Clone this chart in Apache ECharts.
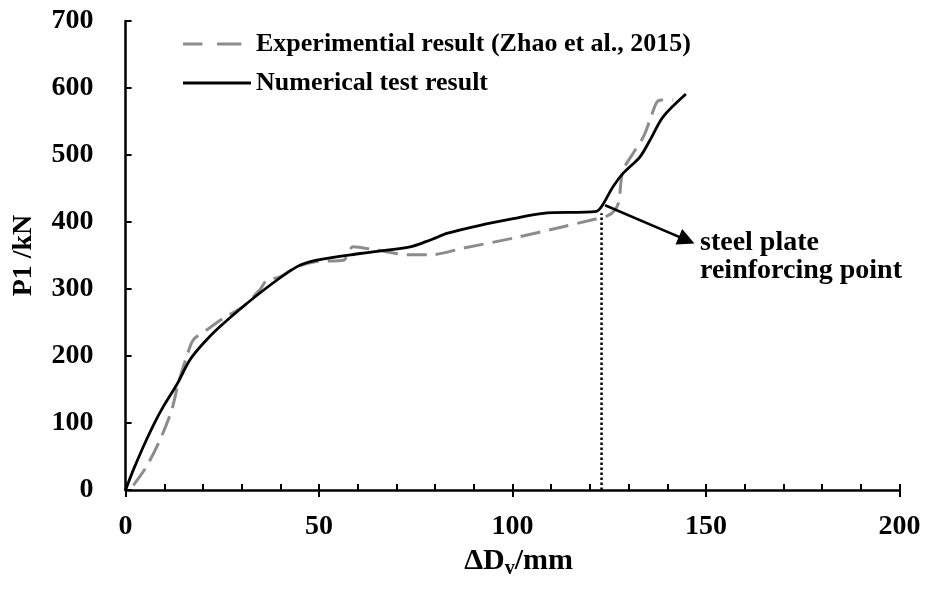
<!DOCTYPE html>
<html>
<head>
<meta charset="utf-8">
<script src="https://cdn.jsdelivr.net/npm/echarts@6/dist/echarts.min.js"></script>
<style>html,body{margin:0;padding:0;background:#fff;}#c{width:925px;height:590px;}</style>
</head>
<body>
<div id="c"></div>
<script>
var xTicks = [0, 50, 100, 150, 200];
var yTicks = [0, 100, 200, 300, 400, 500, 600, 700];

var expName = 'Experimential result (Zhao et al., 2015)';
var numName = 'Numerical test result';

var expX = [2, 5.4, 8.9, 11.9, 13.6, 15.8, 17.5, 21, 25.2, 30.4, 34.7, 36.5, 39.9, 44.2, 49.4, 56.3, 58.8, 64.9, 73.5, 78.7, 87.3, 100.2, 113.1, 120.4, 124.5, 126.5, 127.6, 127.9, 128.6, 131.2, 133.8, 135.5, 137.2, 138.5, 141.5];
var expY = [7, 35, 75, 119, 159, 199, 224, 239, 256, 274, 299, 313, 318, 333, 341, 343, 363, 358, 351, 351, 361, 376, 393, 403, 409, 418, 433, 453, 478, 503, 527, 552, 578, 582, 582];

var numX = [0, 2.0, 4.6, 7.2, 9.7, 13.2, 16.6, 20.1, 24.4, 34.7, 44.2, 49.4, 60.6, 73.5, 77.8, 80, 83, 91.6, 100.2, 107.9, 121.7, 123, 126, 128.6, 132.9, 135.5, 138.9, 144.8];
var numY = [0, 30, 65, 97, 124, 157, 194, 219, 244, 294, 333, 343, 353, 363, 371, 376, 383, 395, 405, 413, 416, 423, 453, 473, 497, 522, 557, 591];

var markX = [123, 123];
var markY = [0, 413];

var arrowFrom = [123.9, 425];
var arrowTo = [145, 373];

var noteLines = ['steel plate', 'reinforcing point'];

function pairs(xs, ys) { return xs.map(function (x, i) { return [x, ys[i]]; }); }

var font = '"Liberation Serif", "Times New Roman", serif';
var chart = echarts.init(document.getElementById('c'));
chart.setOption({
  animation: false,
  backgroundColor: '#fff',
  grid: { left: 125.6, right: 25.5, top: 21, bottom: 100 },
  legend: {
    orient: 'vertical', left: 178, top: 26,
    itemWidth: 68, itemHeight: 3, itemGap: 13,
    data: [
      { name: expName, icon: 'path://M0,0h20v3h-20zM35,0h25v3h-25zM69.9,0h0.1v3h-0.1z' },
      { name: numName, icon: 'path://M0,0h70v3h-70z' }
    ],
    textStyle: { fontFamily: font, fontWeight: 'bold', fontSize: 26, color: '#000' }
  },
  xAxis: [{
    type: 'value', min: 0, max: 200, interval: 50,
    name: '{a|ΔD}{b|v}{a|/mm}', nameLocation: 'middle', nameGap: 52,
    nameTextStyle: { padding: [0, 0, 0, 12], rich: {
      a: { fontFamily: font, fontWeight: 'bold', fontSize: 30, color: '#000' },
      b: { fontFamily: font, fontWeight: 'bold', fontSize: 20, color: '#000', padding: [16, 0, 0, 0] }
    } },
    splitLine: { show: false },
    axisLine: { lineStyle: { color: '#000', width: 2.5 } },
    axisTick: { inside: false, length: 7, lineStyle: { color: '#000', width: 2 } },
    axisLabel: { margin: 23, fontFamily: font, fontWeight: 'bold', fontSize: 28, color: '#000',
      formatter: function (v) { return xTicks.indexOf(v) >= 0 ? String(v) : ''; } }
  }, {
    type: 'value', min: 0, max: 200, interval: 10, position: 'bottom', gridIndex: 0,
    splitLine: { show: false },
    axisLine: { show: false },
    axisTick: { inside: true, length: 6, lineStyle: { color: '#000', width: 2 } },
    axisLabel: { show: false }
  }],
  yAxis: {
    type: 'value', min: 0, max: 700, interval: 100,
    name: 'P1 /kN', nameLocation: 'middle', nameGap: 88, nameRotate: 90,
    nameTextStyle: { fontFamily: font, fontWeight: 'bold', fontSize: 28, color: '#000' },
    splitLine: { show: false },
    axisLine: { lineStyle: { color: '#000', width: 2.5 } },
    axisTick: { inside: true, length: 6, lineStyle: { color: '#000', width: 2 } },
    axisLabel: { margin: 32, fontFamily: font, fontWeight: 'bold', fontSize: 28, color: '#000',
      formatter: function (v) { return yTicks.indexOf(v) >= 0 ? String(v) : ''; } }
  },
  graphic: [
    { type: 'text', left: 700, top: 229, style: { text: noteLines.join('\n'), font: 'bold 28px ' + font, lineHeight: 28, fill: '#000' } }
  ],
  series: [{
    name: expName, type: 'line', xAxisIndex: 0, data: pairs(expX, expY),
    symbol: 'none', showSymbol: false, smooth: 0.3,
    lineStyle: { color: '#8c8c8c', width: 3, type: [20, 9] }, itemStyle: { color: '#8c8c8c' }, z: 2
  }, {
    name: numName, type: 'line', xAxisIndex: 0, data: pairs(numX, numY),
    symbol: 'none', showSymbol: false, smooth: 0.3,
    lineStyle: { color: '#000', width: 2.8 }, itemStyle: { color: '#000' }, z: 3
  }, {
    name: 'marker', type: 'line', xAxisIndex: 0, data: pairs(markX, markY),
    symbol: 'none', showSymbol: false,
    lineStyle: { color: '#000', width: 2.5, type: [2.5, 2.5] }, z: 1
  }, {
    name: 'arrow', type: 'lines', coordinateSystem: 'cartesian2d', xAxisIndex: 0,
    symbol: ['none', 'triangle'], symbolSize: [0, 17],
    lineStyle: { color: '#000', width: 2.5, opacity: 1 }, itemStyle: { color: '#000' },
    data: [{ coords: [arrowFrom, arrowTo] }], z: 4
  }]
});
</script>
</body>
</html>
